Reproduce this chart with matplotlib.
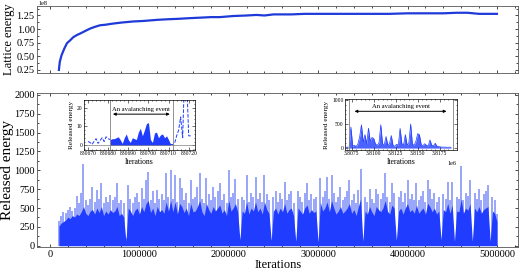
import numpy as np
import matplotlib
matplotlib.use('Agg')
import matplotlib.pyplot as plt
from matplotlib.ticker import MultipleLocator, AutoMinorLocator, ScalarFormatter

plt.rcParams['font.family'] = ['Liberation Serif', 'DejaVu Serif']

# Lattice energy (top panel), iterations in millions, energy in units of 1e8
lattice_iters = [0.10, 0.11, 0.13, 0.16, 0.19, 0.23, 0.26, 0.30, 0.34, 0.40, 0.45, 0.50, 0.56, 0.62, 0.70,
                 0.80, 0.93, 1.05, 1.20, 1.31, 1.45, 1.55, 1.68, 1.80, 1.90, 2.05, 2.20, 2.31, 2.40, 2.50,
                 2.70, 2.85, 3.00, 3.20, 3.40, 3.60, 3.80, 4.00, 4.20, 4.40, 4.55, 4.67, 4.80, 4.90, 5.00]
lattice_energy = [0.25, 0.40, 0.52, 0.64, 0.74, 0.80, 0.85, 0.89, 0.92, 0.97, 1.01, 1.04, 1.07, 1.08, 1.10,
                  1.12, 1.14, 1.15, 1.17, 1.18, 1.19, 1.20, 1.21, 1.22, 1.22, 1.24, 1.25, 1.26, 1.25, 1.27,
                  1.27, 1.28, 1.28, 1.28, 1.28, 1.28, 1.28, 1.29, 1.29, 1.29, 1.30, 1.30, 1.28, 1.28, 1.28]

# Released energy (bottom panel), one value every 25000 iterations from 100000 to 5000000
release_start, release_step = 100000, 25000
peak_energy = [330, 400, 450, 430, 480, 520, 460, 500,
               660, 560, 700, 1080, 600, 540, 620, 780,
               580, 740, 620, 830, 560, 640, 580, 675,
               600, 640, 830, 560, 610, 560, 100, 805,
               620, 560, 640, 700, 580, 760, 620, 870,
               975, 600, 720, 560, 740, 620, 680, 600,
               960, 640, 1000, 620, 935, 580, 900, 760,
               600, 700, 560, 870, 620, 640, 780, 960,
               620, 560, 900, 680, 600, 780, 640, 720,
               830, 600, 680, 560, 1000, 640, 700, 880,
               620, 80, 640, 600, 935, 580, 700, 640,
               910, 620, 700, 580, 935, 680, 600, 70,
               640, 720, 580, 700, 620, 845, 600, 680,
               720, 560, 60, 720, 640, 580, 700, 830,
               600, 680, 620, 640, 50, 895, 640, 720,
               910, 620, 935, 700, 580, 640, 780, 600,
               640, 720, 870, 600, 680, 560, 740, 1020,
               60, 640, 580, 750, 620, 560, 750, 680,
               620, 700, 960, 640, 580, 830, 700, 70,
               640, 720, 580, 700, 870, 620, 680, 600,
               830, 600, 660, 720, 580, 870, 750, 620,
               700, 580, 640, 80, 680, 620, 845, 600,
               845, 60, 640, 620, 1060, 600, 700, 660,
               870, 60, 700, 620, 750, 600, 680, 720,
               800, 60, 640, 600, 420]
body_energy = [260, 300, 320, 340, 380, 360, 400, 380,
               420, 400, 450, 520, 430, 400, 460, 480,
               420, 500, 440, 520, 400, 460, 420, 480,
               440, 460, 520, 400, 430, 380, 60, 500,
               460, 400, 470, 500, 420, 520, 450, 560,
               600, 440, 500, 400, 520, 450, 480, 430,
               580, 460, 600, 450, 580, 420, 560, 520,
               440, 500, 400, 560, 450, 460, 520, 600,
               450, 400, 560, 480, 430, 520, 460, 500,
               540, 430, 480, 400, 600, 460, 500, 560,
               450, 80, 460, 430, 580, 420, 500, 460,
               580, 450, 500, 420, 580, 480, 430, 70,
               460, 500, 420, 500, 450, 560, 430, 480,
               500, 400, 60, 500, 460, 420, 500, 540,
               430, 480, 440, 460, 50, 580, 460, 500,
               580, 450, 600, 500, 420, 460, 520, 430,
               460, 500, 560, 430, 480, 400, 520, 620,
               60, 460, 420, 520, 450, 400, 520, 480,
               450, 500, 600, 460, 420, 540, 500, 70,
               460, 500, 420, 500, 560, 450, 480, 430,
               540, 430, 470, 500, 420, 560, 520, 450,
               500, 420, 460, 80, 480, 450, 560, 430,
               540, 60, 460, 450, 620, 430, 500, 470,
               560, 60, 500, 450, 520, 430, 480, 500,
               520, 60, 460, 430, 320]

# Left inset: one avalanche around iteration 830700
inset1_start = 830670
inset1_energy = [2, 1.5, 0.5, 2, 3.5, 1, 2.5, 4, 2, 4.5, 3.5,
                 3.0, 3.5, 3.5, 4.0, 4.5, 3.0, 1.0, 4.0, 6.0, 3.0, 1.5, 4.0, 3.5, 3.0, 7.0, 9.0,
                 5.0, 8.0, 11.5, 12.0, 3.0, 1.5, 6.5, 7.0, 4.0, 5.5, 6.0, 4.0, 5.0, 3.0, 0.5,
                 0.3, 1, 5, 8, 15, 4, 40, 35, 5, 5]
inset1_event = (830681, 830712)

# Right inset: one avalanche around iteration 3.81e6, one value every 200 iterations
inset2_pre_iters = [3806800, 3806900, 3807000, 3807100, 3807200]
inset2_pre_energy = [10, 15, 20, 8, 30]
inset2_start, inset2_step = 3807200, 200
inset2_energy = [30, 440, 40, 60, 30, 90, 240, 485, 120, 280, 90, 415, 140, 220, 200, 80, 60, 110, 485, 90,
                 70, 240, 60, 100, 260, 50, 40, 80, 60, 410, 90, 70, 280, 60, 110, 500, 80, 60, 140, 300,
                 280, 70, 50, 90, 60, 40, 170, 60, 50, 100, 40, 30, 25, 20, 20, 20, 15, 20, 15]
inset2_event = (3807150, 3819000)

blue = '#1f3cff'
light_blue = '#7d8df8'

fig = plt.figure(figsize=(5.2, 2.71), dpi=100)

# ---------- top panel
ax1 = fig.add_axes([0.072, 0.732, 0.924, 0.247])
ax1.plot(np.array(lattice_iters) * 1e6, np.array(lattice_energy) * 1e8, color='#1f3ad8', lw=1.6)
ax1.set_xlim(-140000, 5235000)
ax1.set_ylim(0.2e8, 1.43e8)
ax1.set_yticks(np.arange(0.25, 1.26, 0.25) * 1e8)
ax1.xaxis.set_major_locator(MultipleLocator(1000000))
ax1.xaxis.set_minor_locator(MultipleLocator(200000))
ax1.yaxis.set_minor_locator(AutoMinorLocator(2))
ax1.tick_params(direction='in', which='both', top=True, right=True, labelbottom=False, labelsize=7.5,
                length=2.5, width=0.5, pad=2)
ax1.tick_params(which='minor', length=1.5)
ax1.yaxis.get_offset_text().set_visible(False)
fig.text(0.074, 0.997, '1e8', fontsize=4.5, va='top', ha='left')
ax1.set_ylabel('Lattice energy', fontsize=9, labelpad=1)
for s in ax1.spines.values():
    s.set_linewidth(0.6)
    s.set_color('#555555')

# ---------- bottom panel
ax2 = fig.add_axes([0.072, 0.089, 0.924, 0.568])
iters = release_start + release_step * np.arange(len(peak_energy))
ax2.vlines(iters, 0, peak_energy, color=light_blue, lw=1.1, zorder=2)
ax2.fill_between(iters, 0, body_energy, color=blue, lw=0, zorder=3)
ax2.set_xlim(-140000, 5235000)
ax2.set_ylim(-15, 2025)
ax2.set_yticks(np.arange(0, 2001, 250))
ax2.xaxis.set_major_locator(MultipleLocator(1000000))
ax2.xaxis.set_minor_locator(MultipleLocator(200000))
ax2.yaxis.set_minor_locator(AutoMinorLocator(2))
ax2.ticklabel_format(style='plain', axis='x')
ax2.tick_params(direction='in', which='both', top=True, right=True, labelsize=7.5, length=2.5, width=0.5, pad=2)
ax2.tick_params(which='minor', length=1.5)
ax2.set_xlabel('Iterations', fontsize=9, labelpad=0)
ax2.set_ylabel('Released energy', fontsize=11, labelpad=0)
for s in ax2.spines.values():
    s.set_linewidth(0.6)
    s.set_color('#555555')

# ---------- left inset
ins1 = fig.add_axes([0.1615, 0.4465, 0.213, 0.1845])
x1 = inset1_start + np.arange(len(inset1_energy))
e1 = np.array(inset1_energy)
in_ev = (x1 >= inset1_event[0]) & (x1 <= inset1_event[1] - 1)
ins1.plot(x1[x1 <= inset1_event[0]], e1[x1 <= inset1_event[0]], '--', color=blue, lw=0.7)
ins1.plot(x1[x1 >= inset1_event[1] - 1], e1[x1 >= inset1_event[1] - 1], '--', color=blue, lw=0.7)
ins1.fill_between(x1[in_ev], 0, e1[in_ev], color=blue, lw=0)
ins1.axvline(inset1_event[0], color='gray', lw=0.6)
ins1.axvline(inset1_event[1], color='gray', lw=0.6)
ins1.axhline(0, color='gray', lw=0.5)
ins1.annotate('', xy=(inset1_event[0], 16.5), xytext=(inset1_event[1], 16.5),
              arrowprops=dict(arrowstyle='<|-|>', color='black', lw=0.7, mutation_scale=4))
ins1.text(np.mean(inset1_event), 17.5, 'An avalanching event', ha='center', va='bottom', fontsize=4.8)
ins1.set_xlim(830668, 830723)
ins1.set_ylim(-2.5, 24)
ins1.set_xticks(np.arange(830670, 830721, 10))
ins1.set_yticks([0, 10, 20])
ins1.ticklabel_format(style='plain', useOffset=False, axis='x')
ins1.xaxis.set_minor_locator(MultipleLocator(2))
ins1.yaxis.set_minor_locator(MultipleLocator(2))
ins1.tick_params(direction='in', which='both', top=True, right=True, labelsize=4.0, length=2, width=0.4, pad=1)
ins1.tick_params(which='minor', length=1)
ins1.set_xlabel('Iterations', fontsize=5.5, labelpad=1)
ins1.set_ylabel('Released energy', fontsize=5.2, labelpad=2)
for s in ins1.spines.values():
    s.set_linewidth(0.5)

# ---------- right inset
ins2 = fig.add_axes([0.663, 0.4465, 0.215, 0.188])
x2 = inset2_start + inset2_step * np.arange(len(inset2_energy))
ins2.plot(inset2_pre_iters, inset2_pre_energy, '--', color=blue, lw=0.6)
ins2.plot(x2, inset2_energy, color=blue, lw=0.5)
ins2.fill_between(x2, 0, inset2_energy, color=blue, alpha=0.8, lw=0)
ins2.axvline(inset2_event[0], color='gray', lw=0.6)
ins2.axvline(inset2_event[1], color='gray', lw=0.6)
ins2.annotate('', xy=(3807500, 765), xytext=(3818600, 765),
              arrowprops=dict(arrowstyle='<|-|>', color='black', lw=0.7, mutation_scale=4))
ins2.text(3813050, 820, 'An avalanching event', ha='center', va='bottom', fontsize=4.8)
ins2.set_xlim(3806700, 3819430)
ins2.set_ylim(-40, 1020)
ins2.set_xticks(np.arange(3807500, 3817600, 2500))
ins2.set_yticks([0, 500, 1000])
fmt = ScalarFormatter(useOffset=False)
fmt.set_scientific(True)
fmt.set_powerlimits((0, 0))
ins2.xaxis.set_major_formatter(fmt)
ins2.xaxis.get_offset_text().set_fontsize(4.5)
ins2.xaxis.set_minor_locator(MultipleLocator(500))
ins2.yaxis.set_minor_locator(MultipleLocator(100))
ins2.tick_params(direction='in', which='both', top=True, right=True, labelsize=4.0, length=2, width=0.4, pad=1)
ins2.tick_params(which='minor', length=1)
ins2.set_xlabel('Iterations', fontsize=5.5, labelpad=1)
ins2.set_ylabel('Released energy', fontsize=5.2, labelpad=2)
for s in ins2.spines.values():
    s.set_linewidth(0.5)

plt.savefig('out.png', dpi=100)
